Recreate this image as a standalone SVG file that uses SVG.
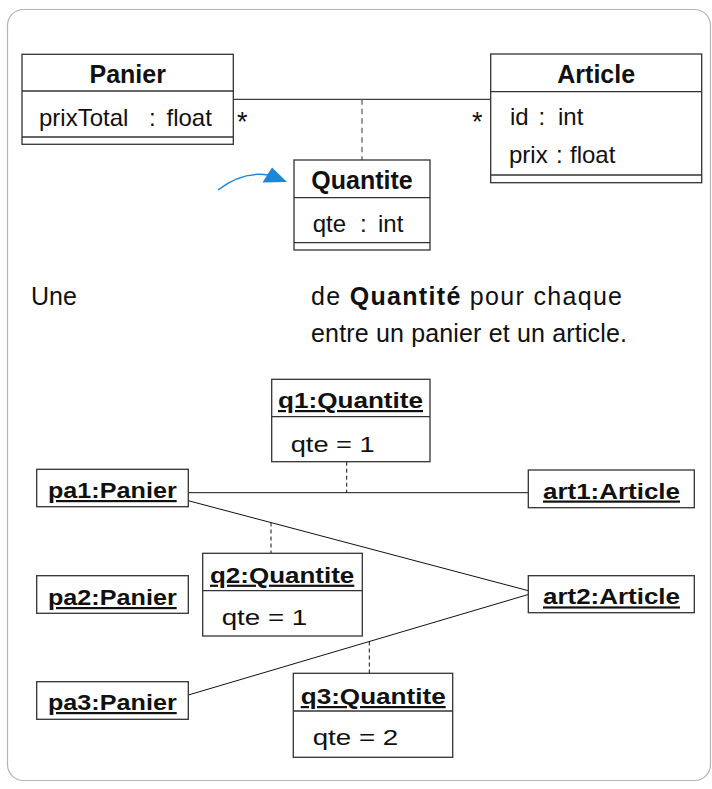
<svg xmlns="http://www.w3.org/2000/svg" width="712" height="789" viewBox="0 0 712 789">
<style>
text{font-family:"Liberation Sans",Arial,sans-serif;fill:#111}
.h{font-size:25px;font-weight:bold;text-anchor:middle}
.a{font-size:24px}
.c{font-size:25px}
.box{fill:#fff;stroke:#333;stroke-width:1.3}
.sep{stroke:#333;stroke-width:1.3}
.ln{stroke:#111;stroke-width:1;fill:none}
.dash{stroke:#555;stroke-width:1.2;stroke-dasharray:5.5 4;fill:none}
.odash{stroke:#111;stroke-width:1;stroke-dasharray:4 3;fill:none}
.o{font-size:22px;font-weight:bold;text-decoration:underline}
.v{font-size:22px}
.m{font-size:27px}
</style>
<rect x="0" y="0" width="712" height="789" fill="#fff"/>
<rect x="7.5" y="9.5" width="703" height="771" rx="16" fill="#fff" stroke="#b4b4b4" stroke-width="1.2"/>

<g id="connectors">
  <line class="ln" x1="233.3" y1="99.3" x2="490.7" y2="99.3"/>
  <line class="dash" x1="362" y1="99.3" x2="362" y2="160"/>
  <text class="m" x="237" y="131">*</text>
  <text class="m" x="472" y="131">*</text>
  <line class="ln" x1="188.3" y1="492.7" x2="528.3" y2="492.7"/>
  <line class="ln" x1="188.3" y1="500.7" x2="528.3" y2="590.7"/>
  <line class="ln" x1="188.3" y1="695" x2="528.3" y2="594.5"/>
  <line class="odash" x1="346.7" y1="461.7" x2="346.7" y2="492.7"/>
  <line class="odash" x1="271" y1="522.5" x2="271" y2="553.3"/>
  <line class="odash" x1="369.3" y1="641.5" x2="369.3" y2="673.3"/>
</g>

<g id="Panier">
  <rect class="box" x="22" y="54.3" width="211.3" height="90"/>
  <line class="sep" x1="22" y1="91" x2="233.3" y2="91"/>
  <line class="sep" x1="22" y1="137" x2="233.3" y2="137"/>
  <text class="h" x="127.7" y="83">Panier</text>
  <text class="a" x="39" y="126">prixTotal</text>
  <text class="a" x="149" y="126">:</text>
  <text class="a" x="166.5" y="126">float</text>
</g>

<g id="Article">
  <rect class="box" x="490.7" y="54" width="211" height="128.7"/>
  <line class="sep" x1="490.7" y1="91.7" x2="701.7" y2="91.7"/>
  <line class="sep" x1="490.7" y1="175" x2="701.7" y2="175"/>
  <text class="h" x="596.2" y="83.3">Article</text>
  <text class="a" x="510" y="125">id</text>
  <text class="a" x="538.5" y="125">:</text>
  <text class="a" x="558" y="125">int</text>
  <text class="a" x="509" y="163">prix</text>
  <text class="a" x="556" y="163">:</text>
  <text class="a" x="570" y="163">float</text>
</g>

<g id="Quantite">
  <rect class="box" x="294" y="160" width="136" height="90"/>
  <line class="sep" x1="294" y1="197.7" x2="430" y2="197.7"/>
  <line class="sep" x1="294" y1="242.7" x2="430" y2="242.7"/>
  <text class="h" x="362" y="189">Quantite</text>
  <text class="a" x="312.7" y="231.5">qte</text>
  <text class="a" x="360" y="231.5">:</text>
  <text class="a" x="378" y="231.5">int</text>
</g>

<g id="pointer">
  <path d="M218,190 Q242,171 268,175" fill="none" stroke="#1b87d6" stroke-width="1.5"/>
  <polygon points="272,167.5 287,182 262.5,182.5" fill="#1b87d6"/>
</g>

<g id="caption">
  <text class="c" x="31" y="305">Une</text>
  <text class="c" x="311" y="305" textLength="311">de <tspan font-weight="bold">Quantité</tspan> pour chaque</text>
  <text class="c" x="311" y="342" textLength="316">entre un panier et un article.</text>
</g>

<g id="q1">
  <rect class="box" x="271.7" y="379.3" width="158.3" height="82.4"/>
  <line class="sep" x1="271.7" y1="416.7" x2="430" y2="416.7"/>
  <text class="o" x="278" y="408" textLength="145" lengthAdjust="spacingAndGlyphs">q1:Quantite</text>
  <text class="v" x="290.7" y="451.7" textLength="84" lengthAdjust="spacingAndGlyphs">qte = 1</text>
</g>

<g id="pa1">
  <rect class="box" x="36.7" y="469.3" width="151.6" height="37.4"/>
  <text class="o" x="48" y="498" textLength="128.7" lengthAdjust="spacingAndGlyphs">pa1:Panier</text>
</g>

<g id="art1">
  <rect class="box" x="528.3" y="470" width="166" height="37.7"/>
  <text class="o" x="543" y="498.5" textLength="137" lengthAdjust="spacingAndGlyphs">art1:Article</text>
</g>

<g id="q2">
  <rect class="box" x="202.7" y="553.3" width="159.6" height="82.7"/>
  <line class="sep" x1="202.7" y1="590.7" x2="362.3" y2="590.7"/>
  <text class="o" x="210" y="582.7" textLength="144.3" lengthAdjust="spacingAndGlyphs">q2:Quantite</text>
  <text class="v" x="221.7" y="625" textLength="85.6" lengthAdjust="spacingAndGlyphs">qte = 1</text>
</g>

<g id="pa2">
  <rect class="box" x="36.7" y="575.7" width="151.6" height="37.6"/>
  <text class="o" x="48" y="605" textLength="128.7" lengthAdjust="spacingAndGlyphs">pa2:Panier</text>
</g>

<g id="art2">
  <rect class="box" x="528.3" y="575.7" width="166" height="37"/>
  <text class="o" x="543" y="604.4" textLength="137" lengthAdjust="spacingAndGlyphs">art2:Article</text>
</g>

<g id="pa3">
  <rect class="box" x="36.7" y="681.7" width="151.6" height="37.6"/>
  <text class="o" x="48" y="710" textLength="128.7" lengthAdjust="spacingAndGlyphs">pa3:Panier</text>
</g>

<g id="q3">
  <rect class="box" x="293.3" y="673.3" width="159.4" height="84"/>
  <line class="sep" x1="293.3" y1="711" x2="452.7" y2="711"/>
  <text class="o" x="300.7" y="704" textLength="145" lengthAdjust="spacingAndGlyphs">q3:Quantite</text>
  <text class="v" x="312.7" y="745" textLength="85.6" lengthAdjust="spacingAndGlyphs">qte = 2</text>
</g>
</svg>
